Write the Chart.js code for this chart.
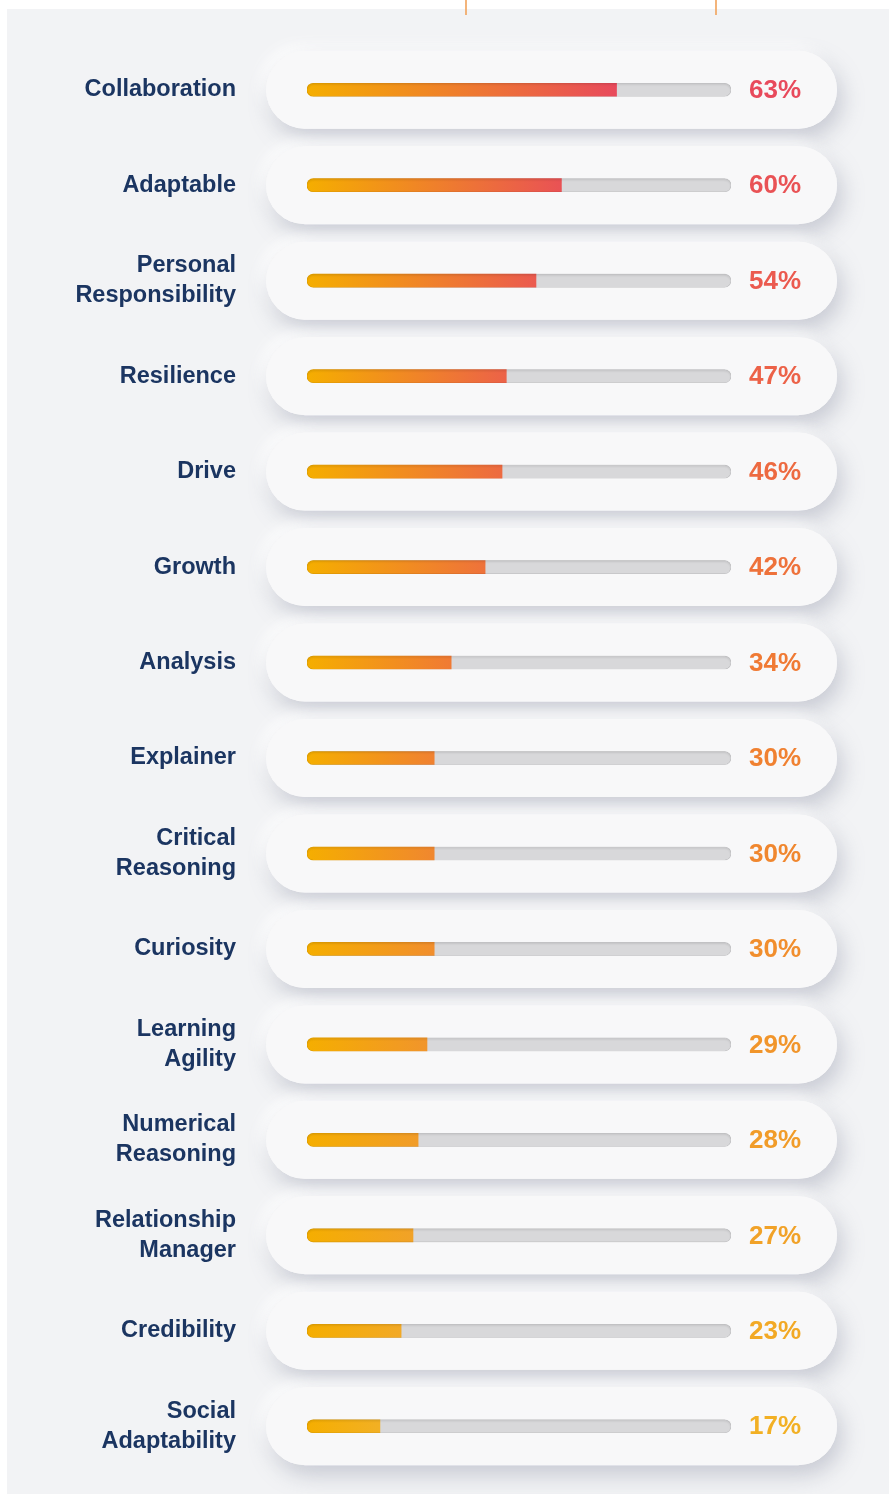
<!DOCTYPE html>
<html>
<head>
<meta charset="utf-8">
<title>Skills</title>
<script src="https://cdn.jsdelivr.net/npm/chart.js@4.4.1/dist/chart.umd.min.js"></script>
<style>
  html, body { margin: 0; padding: 0; background: #ffffff; }
  #wrap { width: 889px; height: 1494px; }
</style>
</head>
<body>
<div id="wrap"><canvas id="skillsChart" width="889" height="1494"></canvas></div>
<script>
// categories (top to bottom)
const skills = [
    'Collaboration',
    'Adaptable',
    ['Personal', 'Responsibility'],
    'Resilience',
    'Drive',
    'Growth',
    'Analysis',
    'Explainer',
    ['Critical', 'Reasoning'],
    'Curiosity',
    ['Learning', 'Agility'],
    ['Numerical', 'Reasoning'],
    ['Relationship', 'Manager'],
    'Credibility',
    ['Social', 'Adaptability']
];

// the printed percentages
const shownPercent = [63, 60, 54, 47, 46, 42, 34, 30, 30, 30, 29, 28, 27, 23, 17];

// bar lengths as drawn in the picture (0-100 track)
const barLength = [73, 60, 54, 47, 46, 42, 34, 30, 30, 30, 28.3, 26.2, 25, 22.2, 17.2];

// full track behind each bar
const trackLength = skills.map(() => 100);

// colour ramp from the top row (red) to the bottom row (yellow)
const rampStops = [
    [0.00, [232, 74, 92]],
    [0.45, [240, 124, 50]],
    [1.00, [242, 176, 36]]
];

function rowColor(i) {
    const t = i / (skills.length - 1);
    for (let k = 1; k < rampStops.length; k++) {
        const [t1, c1] = rampStops[k];
        const [t0, c0] = rampStops[k - 1];
        if (t <= t1) {
            const f = (t - t0) / (t1 - t0);
            const c = c0.map((v, j) => Math.round(v + (c1[j] - v) * f));
            return `rgb(${c[0]},${c[1]},${c[2]})`;
        }
    }
    return 'rgb(242,176,36)';
}

function roundRect(ctx, x, y, w, h, r) {
    ctx.beginPath();
    ctx.moveTo(x + r, y);
    ctx.lineTo(x + w - r, y);
    ctx.arc(x + w - r, y + r, r, -Math.PI / 2, 0);
    ctx.lineTo(x + w, y + h - r);
    ctx.arc(x + w - r, y + h - r, r, 0, Math.PI / 2);
    ctx.lineTo(x + r, y + h);
    ctx.arc(x + r, y + h - r, r, Math.PI / 2, Math.PI);
    ctx.lineTo(x, y + r);
    ctx.arc(x + r, y + r, r, Math.PI, Math.PI * 1.5);
    ctx.closePath();
}

// page background + the two little orange ticks at the top
const backdrop = {
    id: 'backdrop',
    beforeDraw(chart) {
        const { ctx, width, height } = chart;
        ctx.save();
        ctx.fillStyle = '#ffffff';
        ctx.fillRect(0, 0, width, height);
        ctx.fillStyle = '#f2f3f5';
        ctx.fillRect(7, 9, width - 7, height - 9);
        ctx.strokeStyle = '#f1a25a';
        ctx.lineWidth = 1.6;
        [466, 716].forEach(x => {
            ctx.beginPath();
            ctx.moveTo(x, 0);
            ctx.lineTo(x, 15);
            ctx.stroke();
        });
        ctx.restore();
    }
};

// soft rounded cards behind each row
const rowCards = {
    id: 'rowCards',
    beforeDatasetsDraw(chart) {
        const { ctx, chartArea, scales: { y } } = chart;
        const left = chartArea.left - 41;
        const right = chartArea.right + 106;
        const h = 78;
        ctx.save();
        skills.forEach((s, i) => {
            const cy = y.getPixelForValue(i);
            // light highlight up-left
            ctx.shadowColor = 'rgba(255,255,255,0.95)';
            ctx.shadowBlur = 14;
            ctx.shadowOffsetX = -6;
            ctx.shadowOffsetY = -6;
            ctx.fillStyle = '#f8f8f9';
            roundRect(ctx, left, cy - h / 2, right - left, h, h / 2);
            ctx.fill();
            // darker shadow down-right
            ctx.shadowColor = 'rgba(140,146,165,0.42)';
            ctx.shadowBlur = 22;
            ctx.shadowOffsetX = 5;
            ctx.shadowOffsetY = 10;
            ctx.fill();
            ctx.shadowColor = 'transparent';
            ctx.fill();
        });
        ctx.restore();
    }
};

// inset shade on the top edge of each track + percentage text
const trackShade = {
    id: 'trackShade',
    afterDatasetsDraw(chart) {
        const { ctx, chartArea, scales: { x, y } } = chart;
        const x0 = x.getPixelForValue(0);
        const x1 = x.getPixelForValue(100);
        const th = 13;
        ctx.save();
        skills.forEach((s, i) => {
            const cy = y.getPixelForValue(i);
            ctx.save();
            roundRect(ctx, x0, cy - th / 2, x1 - x0, th, th / 2);
            ctx.clip();
            ctx.strokeStyle = 'rgba(0,0,0,0.28)';
            ctx.lineWidth = 2;
            ctx.shadowColor = 'rgba(0,0,0,0.35)';
            ctx.shadowBlur = 2;
            ctx.shadowOffsetY = 1.5;
            roundRect(ctx, x0 - 1, cy - th / 2 - 1, x1 - x0 + 2, th + 2, th / 2 + 1);
            ctx.stroke();
            ctx.restore();

            ctx.fillStyle = rowColor(i);
            ctx.font = 'bold 26px "Liberation Sans", Arial, sans-serif';
            ctx.textAlign = 'left';
            ctx.textBaseline = 'middle';
            ctx.fillText(shownPercent[i] + '%', chartArea.right + 18, cy + 1);
        });
        ctx.restore();
    }
};

const ctx = document.getElementById('skillsChart').getContext('2d');

new Chart(ctx, {
    type: 'bar',
    data: {
        labels: skills,
        datasets: [
            {
                label: 'Share',
                data: barLength,
                order: 0,
                grouped: false,
                barThickness: 13,
                borderSkipped: false,
                borderRadius: { topLeft: 7, bottomLeft: 7, topRight: 0, bottomRight: 0 },
                backgroundColor: (c) => {
                    const chart = c.chart;
                    const xs = chart.scales.x;
                    if (!chart.chartArea || !xs || c.dataIndex === undefined) return '#f5ad00';
                    const a = xs.getPixelForValue(0);
                    const b = xs.getPixelForValue(barLength[c.dataIndex]);
                    const g = chart.ctx.createLinearGradient(a, 0, b, 0);
                    g.addColorStop(0, '#f5ae00');
                    g.addColorStop(1, rowColor(c.dataIndex));
                    return g;
                }
            },
            {
                label: 'Track',
                data: trackLength,
                order: 1,
                grouped: false,
                barThickness: 13,
                borderSkipped: false,
                borderRadius: 7,
                backgroundColor: '#d8d8da'
            }
        ]
    },
    options: {
        indexAxis: 'y',
        responsive: false,
        animation: false,
        layout: { padding: { left: 0, right: 158, top: 42, bottom: 20 } },
        plugins: {
            legend: { display: false },
            tooltip: { enabled: false }
        },
        scales: {
            x: {
                display: false,
                min: 0,
                max: 100
            },
            y: {
                grid: { display: false, drawTicks: false },
                border: { display: false },
                afterFit: (scale) => {
                    // fixed axis width, and no extra top/bottom room for the labels
                    scale.width = 307;
                    scale.paddingTop = 0;
                    scale.paddingBottom = 0;
                },
                ticks: {
                    padding: 71,
                    color: '#1b3561',
                    font: { family: '"Liberation Sans", Arial, sans-serif', size: 23.5, weight: 'bold', lineHeight: 1.28 }
                }
            }
        }
    },
    plugins: [backdrop, rowCards, trackShade]
});
</script>
</body>
</html>
